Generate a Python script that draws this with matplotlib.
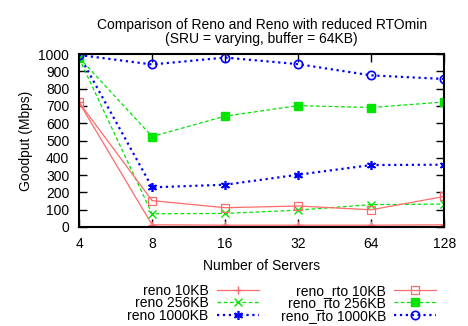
import numpy as np
import matplotlib
matplotlib.use("Agg")
import matplotlib.pyplot as plt

plt.rcParams['font.family'] = ['Liberation Sans', 'DejaVu Sans']

servers = [4, 8, 16, 32, 64, 128]

reno_10 = [720, 12, 10, 10, 10, 12]
reno_256 = [975, 76, 78, 97, 129, 132]
reno_1000 = [995, 229, 244, 302, 358, 360]
rto_10 = [720, 152, 111, 121, 99, 176]
rto_256 = [980, 523, 641, 702, 691, 723]
rto_1000 = [995, 940, 980, 942, 877, 856]

yticks = list(range(0, 1001, 100))

red = '#ff6a6a'
green = '#00e600'
blue = '#0000ff'

fig = plt.figure(figsize=(4.68, 3.26), dpi=100)
ax = fig.add_axes([0.169, 0.304, 0.780, 0.530])

ax.plot(servers, reno_10, '-', color=red, lw=0.9, marker='+', ms=6, mew=1, label='reno 10KB')
ax.plot(servers, reno_256, '--', color=green, lw=0.9, marker='x', ms=6, mew=1, dashes=(3, 2), label='reno 256KB')
ax.plot(servers, reno_1000, ':', color=blue, lw=1.6, marker=(6, 2, 0), ms=6.5, mew=1.2, label='reno 1000KB')
ax.plot(servers, rto_10, '-', color=red, lw=0.9, marker='s', ms=6, mfc='none', mew=0.9, label='reno_rto 10KB')
ax.plot(servers, rto_256, '--', color=green, lw=0.9, marker='s', ms=6, dashes=(3, 2), label='reno_rto 256KB')
ax.plot(servers, rto_1000, ':', color=blue, lw=1.6, marker='o', ms=6, mfc='none', mew=1.2, label='reno_rto 1000KB')

ax.set_xscale('log', base=2)
ax.set_xlim(4, 128)
ax.set_xticks(servers)
ax.set_xticklabels([str(s) for s in servers])
ax.minorticks_off()
ax.set_ylim(0, 1000)
ax.set_yticks(yticks)

ax.tick_params(direction='in', top=True, right=True, length=6, width=1,
               labelsize=10, pad=7)
for s in ax.spines.values():
    s.set_linewidth(1.5)

ax.set_xlabel('Number of Servers', fontsize=10, labelpad=6)
ax.set_ylabel('Goodput (Mbps)', fontsize=10, labelpad=4)
ax.set_title('Comparison of Reno and Reno with reduced RTOmin\n(SRU = varying, buffer = 64KB)',
             fontsize=10, linespacing=1.0, pad=8)

ax.legend(ncol=2, loc='upper center', bbox_to_anchor=(0.555, -0.29),
          frameon=False, markerfirst=False, fontsize=10, handlelength=3.0,
          labelspacing=-0.12, columnspacing=1.6, handletextpad=0.6,
          borderpad=0)

fig.savefig('out.png', dpi=100)
